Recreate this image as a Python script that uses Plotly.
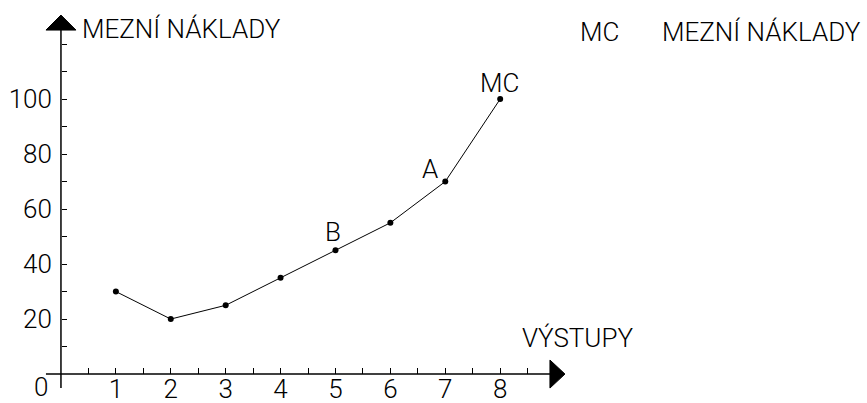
import plotly.graph_objects as go

# data
output_units = [1, 2, 3, 4, 5, 6, 7, 8]
marginal_cost = [30, 20, 25, 35, 45, 55, 70, 100]
point_labels = ["", "", "", "", "B", "", "A", "MC"]
x_tick_values = [1, 2, 3, 4, 5, 6, 7, 8]
x_tick_labels = ["1", "2", "3", "4", "5", "6", "7", "8"]
y_tick_values = [20, 40, 60, 80, 100]
y_tick_labels = ["20", "40", "60", "80", "100"]
x_minor_ticks = [0.5, 1.5, 2.5, 3.5, 4.5, 5.5, 6.5, 7.5, 8.5]
y_minor_ticks = [10, 30, 50, 70, 90, 110, 120]
y_axis_title = "MEZNÍ NÁKLADY"
x_axis_title = "VÝSTUPY"
legend_key = "MC"
legend_text = "MEZNÍ NÁKLADY"
origin_label = "0"

FONT = "Roboto"
FW = 300
FS = 26

W, H = 867, 403
L, R, T, B = 39, 291, 12, 13
XR = [-0.4, 9.381]
YR = [-5.8, 131.65]
pw = W - L - R
ph = H - T - B
ux = pw / (XR[1] - XR[0])  # px per x unit
uy = ph / (YR[1] - YR[0])  # px per y unit


def px_to_paper(px, py):
    return (px - L) / pw, (H - B - py) / ph


fig = go.Figure()
fig.add_trace(go.Scatter(
    x=output_units, y=marginal_cost, mode="lines+markers",
    line=dict(color="black", width=1),
    marker=dict(color="black", size=6),
    showlegend=False, cliponaxis=False, hoverinfo="skip",
))

tfont = dict(family=FONT, size=FS, color="black", weight=FW)

# point labels
offsets = {"B": (-2, 18), "A": (-15, 13), "MC": (-1, 16)}
for xv, yv, lab in zip(output_units, marginal_cost, point_labels):
    if lab:
        dx, dy = offsets[lab]
        fig.add_annotation(x=xv, y=yv, text=lab, showarrow=False,
                           xshift=dx, yshift=dy, font=tfont)

# axis lines + arrows (shapes in data coords)
shapes = []
x_start = -15 / ux
x_arrow_base = (550 - 61) / ux
x_arrow_tip = (565 - 61) / ux
shapes.append(dict(type="line", x0=x_start, x1=x_arrow_base, y0=0, y1=0,
                   line=dict(color="black", width=1.5)))
hy = 14 / uy
shapes.append(dict(type="path",
                   path=f"M {x_arrow_base} {hy} L {x_arrow_tip} 0 L {x_arrow_base} {-hy} Z",
                   fillcolor="black", line=dict(color="black", width=1)))
y_start = -14 / uy
y_arrow_base = (374 - 30) / uy
y_arrow_tip = (374 - 15) / uy
shapes.append(dict(type="line", x0=0, x1=0, y0=y_start, y1=y_arrow_base,
                   line=dict(color="black", width=1.5)))
hx = 15 / ux
shapes.append(dict(type="path",
                   path=f"M {-hx} {y_arrow_base} L 0 {y_arrow_tip} L {hx} {y_arrow_base} Z",
                   fillcolor="black", line=dict(color="black", width=1)))
for s in shapes:
    s["layer"] = "above"
    s["xref"] = "x"
    s["yref"] = "y"
fig.update_layout(shapes=shapes)

# texts (paper coords so they are not hidden outside the axis range)
for txt, px, py, anc in [
    (y_axis_title, 81, 29.5, "left"),
    (x_axis_title, 521, 338, "left"),
    (legend_key, 579, 32, "left"),
    (legend_text, 661, 32, "left"),
    (origin_label, 40.5, 386.5, "center"),
]:
    xp, yp = px_to_paper(px, py)
    fig.add_annotation(x=xp, y=yp, xref="paper", yref="paper", text=txt,
                       showarrow=False, xanchor=anc, yanchor="middle",
                       borderpad=0, font=tfont)

x0_paper = (0 - YR[0]) / (YR[1] - YR[0])
y0_paper = (0 - XR[0]) / (XR[1] - XR[0])

fig.update_layout(
    width=W, height=H,
    margin=dict(l=L, r=R, t=T, b=B, pad=0, autoexpand=False),
    paper_bgcolor="white", plot_bgcolor="white",
    xaxis=dict(range=XR, showgrid=False, zeroline=False, showline=False,
               anchor="free", position=x0_paper, automargin=False,
               ticks="inside", ticklen=6, tickwidth=1, tickcolor="black",
               tickvals=x_tick_values, ticktext=x_tick_labels,
               ticklabelstandoff=-3,
               tickfont=tfont,
               minor=dict(tickvals=x_minor_ticks, ticks="inside", ticklen=6,
                          tickwidth=1, tickcolor="black", showgrid=False)),
    yaxis=dict(range=YR, showgrid=False, zeroline=False, showline=False,
               anchor="free", position=y0_paper, automargin=False,
               ticks="inside", ticklen=5, tickwidth=1, tickcolor="black",
               tickvals=y_tick_values, ticktext=y_tick_labels,
               ticklabelstandoff=9,
               tickfont=tfont,
               minor=dict(tickvals=y_minor_ticks, ticks="inside", ticklen=5,
                          tickwidth=1, tickcolor="black", showgrid=False)),
)

fig.write_html("out.html", config={"displayModeBar": False},
               post_script="document.body.style.margin='0px';")
